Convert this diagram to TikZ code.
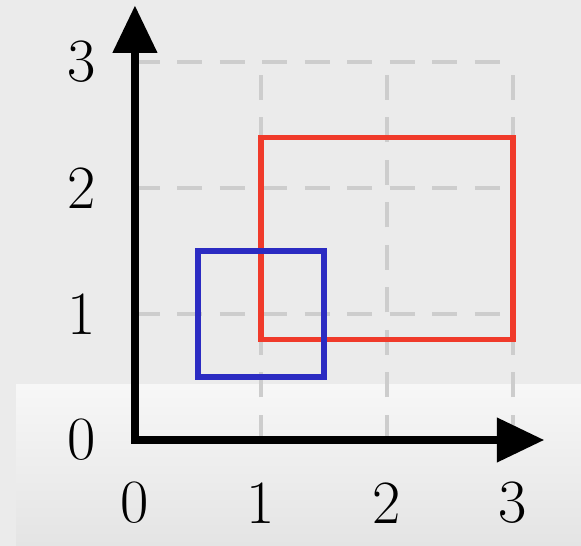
\documentclass[tikz,border=0pt]{standalone}
\usepackage{tikz}
\usetikzlibrary{arrows.meta,positioning}
\definecolor{bggray}{HTML}{EBEBEB}
\definecolor{bandtop}{HTML}{F7F7F7}
\definecolor{bandbot}{HTML}{E4E4E4}
\definecolor{gridgray}{HTML}{CDCDCD}
\definecolor{boxred}{HTML}{F03A2A}
\definecolor{boxblue}{HTML}{2B2BC2}
\tikzset{
  axis/.style={-{Triangle[length=0.95cm, width=0.85cm]}, draw=black, line width=5pt, line cap=rect},
  gridline/.style={draw=gridgray, line width=1.8pt, dash pattern=on 0.5cm off 0.35cm},
  redbox/.style={draw=boxred, line width=3pt},
  bluebox/.style={draw=boxblue, line width=3pt},
  ticklbl/.style={font=\fontsize{35}{40}\selectfont, inner sep=0pt}
}
\begin{document}
\begin{tikzpicture}[x=2.52cm, y=2.52cm]
 % backdrop of the screenshot
 \fill[bggray] (-1.071,-0.841) rectangle (3.540,3.492);
 \useasboundingbox (-1.071,-0.841) rectangle (3.540,3.492);
 \shade[top color=bandtop, bottom color=bandbot] (-0.944,-0.841) rectangle (3.540,0.437);
 % grid
 \foreach \k in {1,2,3}{
  \draw[gridline] (\k,0) -- (\k,3);
  \draw[gridline] (0,\k) -- (3,\k);
 }
 % the two boxes
 \draw[redbox] (1,0.8) rectangle (3,2.4);
 \draw[bluebox] (0.5,0.5) rectangle (1.5,1.5);
 % axes
 \coordinate (O) at (0,0);
 \coordinate (xend) at (3.25,0);
 \coordinate (yend) at (0,3.45);
 \draw[axis] (O) -- (xend);
 \draw[axis] (O) -- (yend);
 \foreach \k in {0,1,2,3}{
  \node[ticklbl] (x\k) at (\k,-0.5) {\k};
  \node[ticklbl] (y\k) at (-0.42,\k) {\k};
 }
\end{tikzpicture}
\end{document}
